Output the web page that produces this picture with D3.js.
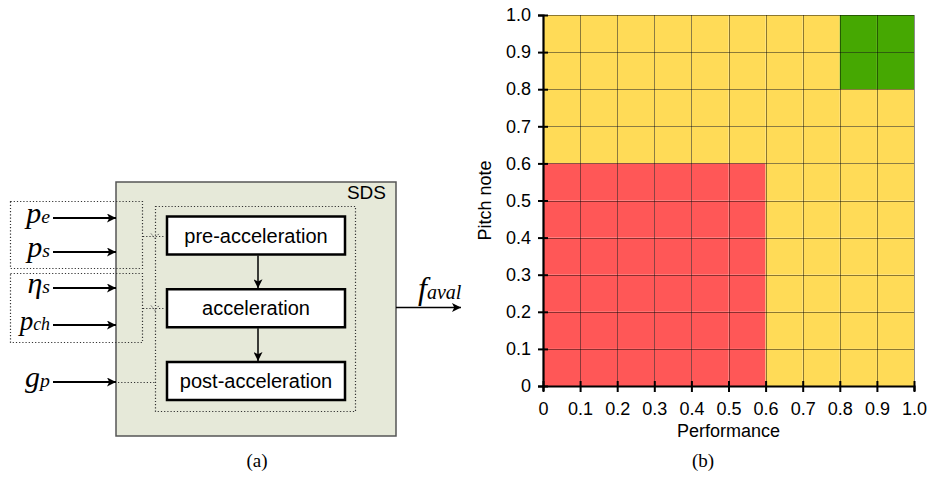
<!DOCTYPE html>
<html>
<head>
<meta charset="utf-8">
<script src="https://cdn.jsdelivr.net/npm/d3@7"></script>
<style>
  body { margin: 0; background: #fff; }
  svg { display: block; }
</style>
</head>
<body>
<div id="chart"></div>
<script>
// ---- data ----
var xTicks = [0, 0.1, 0.2, 0.3, 0.4, 0.5, 0.6, 0.7, 0.8, 0.9, 1.0];
var yTicks = [0, 0.1, 0.2, 0.3, 0.4, 0.5, 0.6, 0.7, 0.8, 0.9, 1.0];
var tickLabels = ['0', '0.1', '0.2', '0.3', '0.4', '0.5', '0.6', '0.7', '0.8', '0.9', '1.0'];
// one string per row, top row (0.9-1.0) first; R = red, Y = yellow, G = green
var cellRows = [
  'YYYYYYYYGG',
  'YYYYYYYYGG',
  'YYYYYYYYYY',
  'YYYYYYYYYY',
  'RRRRRRYYYY',
  'RRRRRRYYYY',
  'RRRRRRYYYY',
  'RRRRRRYYYY',
  'RRRRRRYYYY',
  'RRRRRRYYYY'
];
var xLabel = 'Performance';
var yLabel = 'Pitch note';

var stages = ['pre-acceleration', 'acceleration', 'post-acceleration'];
var inputs = [
  { main: 'p', sub: 'e' },
  { main: 'p', sub: 's' },
  { main: '\u03b7', sub: 's' },
  { main: 'p', sub: 'ch' },
  { main: 'g', sub: 'p' }
];
var output = { main: 'f', sub: 'aval' };

var COLORS = { R: '#ff5757', Y: '#ffdb57', G: '#46a802' };

// ---- svg ----
var W = 933, H = 478;
var svg = d3.select('#chart').append('svg')
  .attr('width', W).attr('height', H)
  .attr('viewBox', '0 0 ' + W + ' ' + H);

var defs = svg.append('defs');
defs.append('marker')
  .attr('id', 'arrow')
  .attr('viewBox', '0 0 10 10')
  .attr('refX', 10).attr('refY', 5)
  .attr('markerWidth', 14).attr('markerHeight', 9)
  .attr('markerUnits', 'userSpaceOnUse')
  .attr('orient', 'auto')
  .append('path')
  .attr('d', 'M0,0 L10,5 L0,10 L2.5,5 Z')
  .attr('fill', '#000');

// ================= (a) block diagram =================
var diag = svg.append('g');
var mathFont = '"Liberation Serif", "DejaVu Serif", serif';
var sansFont = '"Liberation Sans", Arial, sans-serif';

// SDS box
diag.append('rect')
  .attr('x', 116).attr('y', 182).attr('width', 280).attr('height', 254)
  .attr('fill', '#e6e9d9').attr('stroke', '#555').attr('stroke-width', 1.5);

diag.append('text')
  .attr('x', 386).attr('y', 199)
  .attr('text-anchor', 'end')
  .attr('font-family', sansFont).attr('font-size', 19)
  .text('SDS');

var dotted = { fill: 'none', stroke: '#333', 'stroke-width': 1.2, 'stroke-dasharray': '1.2,2' };
function applyAttrs(sel, o) { Object.keys(o).forEach(function (k) { sel.attr(k, o[k]); }); return sel; }

// inner dotted box
applyAttrs(diag.append('rect')
  .attr('x', 155.5).attr('y', 206.5).attr('width', 200).attr('height', 205), dotted);

// input group dotted boxes
applyAttrs(diag.append('rect')
  .attr('x', 10.5).attr('y', 201.5).attr('width', 132).attr('height', 67), dotted);
applyAttrs(diag.append('rect')
  .attr('x', 10.5).attr('y', 273.5).attr('width', 132).attr('height', 69), dotted);

// dotted connectors from groups into the processing box
var connectors = [
  { x1: 143, x2: 165, y: 236.5, head: true },
  { x1: 143, x2: 165, y: 308.5, head: true },
  { x1: 118, x2: 155, y: 382.5, head: false }
];
connectors.forEach(function (c) {
  applyAttrs(diag.append('line')
    .attr('x1', c.x1).attr('x2', c.x2).attr('y1', c.y).attr('y2', c.y), dotted);
  if (c.head) {
    diag.append('path')
      .attr('d', 'M151,' + (c.y - 3) + ' L155,' + (c.y + 2) + ' L159,' + (c.y - 3))
      .attr('fill', 'none').attr('stroke', '#555').attr('stroke-width', 1)
      .attr('stroke-dasharray', '1.5,1.2');
  }
});

// stage blocks
var blockY = d3.scalePoint().domain(stages).range([235.5, 381]);
var blockH = 38, blockX = 167, blockW = 178;
stages.forEach(function (s) {
  var cy = blockY(s);
  diag.append('rect')
    .attr('x', blockX).attr('y', cy - blockH / 2)
    .attr('width', blockW).attr('height', blockH)
    .attr('fill', '#fff').attr('stroke', '#000').attr('stroke-width', 2.5);
  diag.append('text')
    .attr('x', blockX + blockW / 2).attr('y', cy + 7)
    .attr('text-anchor', 'middle')
    .attr('font-family', sansFont).attr('font-size', 20)
    .text(s);
});
for (var i = 0; i < stages.length - 1; i++) {
  diag.append('line')
    .attr('x1', 258).attr('x2', 258)
    .attr('y1', blockY(stages[i]) + blockH / 2 + 1)
    .attr('y2', blockY(stages[i + 1]) - blockH / 2 - 1)
    .attr('stroke', '#000').attr('stroke-width', 1.5)
    .attr('marker-end', 'url(#arrow)');
}

// input arrows and labels
var inputY = [218, 252, 288, 325, 382];
var mainSize = [30, 30, 30, 27, 30];
inputs.forEach(function (d, k) {
  var y = inputY[k];
  diag.append('line')
    .attr('x1', 53).attr('x2', 116).attr('y1', y).attr('y2', y)
    .attr('stroke', '#000').attr('stroke-width', 2)
    .attr('marker-end', 'url(#arrow)');
  var t = diag.append('text')
    .attr('x', 50).attr('y', y + 5)
    .attr('text-anchor', 'end')
    .attr('font-family', mathFont).attr('font-style', 'italic');
  t.append('tspan').attr('font-size', mainSize[k]).text(d.main);
  t.append('tspan').attr('font-size', mainSize[k] * 0.66).text(d.sub);
});

// output arrow
diag.append('line')
  .attr('x1', 396).attr('x2', 461).attr('y1', 307.5).attr('y2', 307.5)
  .attr('stroke', '#000').attr('stroke-width', 1.5)
  .attr('marker-end', 'url(#arrow)');
var ot = diag.append('text')
  .attr('x', 418).attr('y', 299)
  .attr('font-family', mathFont).attr('font-style', 'italic');
ot.append('tspan').attr('font-size', 32).text(output.main);
ot.append('tspan').attr('font-size', 20).text(output.sub);

diag.append('text')
  .attr('x', 257).attr('y', 467)
  .attr('text-anchor', 'middle')
  .attr('font-family', mathFont).attr('font-size', 19)
  .text('(a)');

// ================= (b) zone chart =================
var x = d3.scaleLinear().domain([0, 1]).range([543, 914]);
var y = d3.scaleLinear().domain([0, 1]).range([386, 15]);

var cells = [];
cellRows.forEach(function (row, r) {
  row.split('').forEach(function (c, k) {
    cells.push({ x0: xTicks[k], x1: xTicks[k + 1], y0: yTicks[9 - r], y1: yTicks[10 - r], c: c });
  });
});

var plot = svg.append('g');
plot.selectAll('rect.cell')
  .data(cells)
  .join('rect')
  .attr('class', 'cell')
  .attr('x', function (d) { return x(d.x0); })
  .attr('y', function (d) { return y(d.y1); })
  .attr('width', function (d) { return x(d.x1) - x(d.x0); })
  .attr('height', function (d) { return y(d.y0) - y(d.y1); })
  .attr('fill', function (d) { return COLORS[d.c]; });

// grid lines
plot.selectAll('line.vgrid')
  .data(xTicks.slice(1))
  .join('line')
  .attr('x1', function (d) { return Math.round(x(d)) + 0.5; })
  .attr('x2', function (d) { return Math.round(x(d)) + 0.5; })
  .attr('y1', y(1)).attr('y2', y(0))
  .attr('stroke', 'rgba(0,0,0,0.45)').attr('stroke-width', 1);
plot.selectAll('line.hgrid')
  .data(yTicks.slice(1))
  .join('line')
  .attr('y1', function (d) { return Math.round(y(d)) + 0.5; })
  .attr('y2', function (d) { return Math.round(y(d)) + 0.5; })
  .attr('x1', x(0)).attr('x2', x(1))
  .attr('stroke', 'rgba(0,0,0,0.45)').attr('stroke-width', 1);

function styleAxis(g) {
  g.selectAll('.domain').attr('stroke', '#000').attr('stroke-width', 2.2);
  g.selectAll('.tick line').attr('stroke', '#000').attr('stroke-width', 2);
  g.selectAll('.tick text')
    .attr('font-family', sansFont).attr('font-size', 18).attr('fill', '#000');
}

var xAxis = svg.append('g')
  .attr('transform', 'translate(0,' + y(0) + ')')
  .call(d3.axisBottom(x).tickValues(xTicks)
    .tickFormat(function (d, k) { return tickLabels[k]; })
    .tickSizeOuter(0).tickSize(5).tickPadding(11));
xAxis.selectAll('.tick line').attr('y1', -5).attr('y2', 6);
styleAxis(xAxis);

var yAxis = svg.append('g')
  .attr('transform', 'translate(' + x(0) + ',0)')
  .call(d3.axisLeft(y).tickValues(yTicks)
    .tickFormat(function (d, k) { return tickLabels[k]; })
    .tickSizeOuter(0).tickSize(5).tickPadding(7));
yAxis.selectAll('.tick line').attr('x1', -5).attr('x2', 5);
styleAxis(yAxis);

svg.append('text')
  .attr('x', (x(0) + x(1)) / 2).attr('y', 437)
  .attr('text-anchor', 'middle')
  .attr('font-family', sansFont).attr('font-size', 18)
  .text(xLabel);

svg.append('text')
  .attr('transform', 'translate(491,' + y(0.5) + ') rotate(-90)')
  .attr('text-anchor', 'middle')
  .attr('font-family', sansFont).attr('font-size', 18)
  .text(yLabel);

svg.append('text')
  .attr('x', 703).attr('y', 467)
  .attr('text-anchor', 'middle')
  .attr('font-family', mathFont).attr('font-size', 19)
  .text('(b)');
</script>
</body>
</html>
